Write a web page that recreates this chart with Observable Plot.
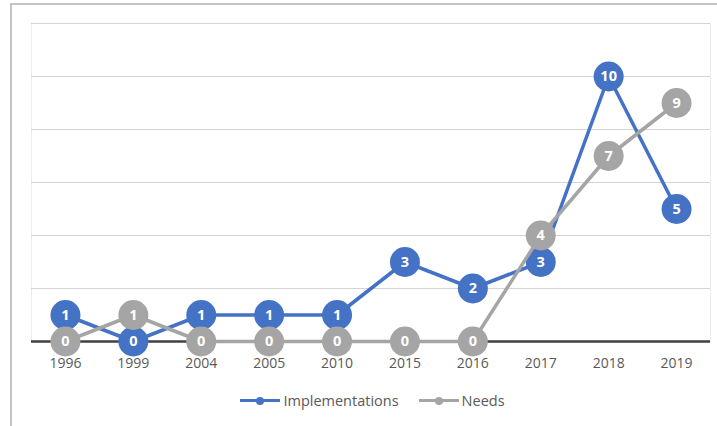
<!DOCTYPE html>
<html>
<head>
<meta charset="utf-8">
<script src="https://cdn.jsdelivr.net/npm/d3@7"></script>
<script src="https://cdn.jsdelivr.net/npm/@observablehq/plot@0.6"></script>
<style>
  html, body { margin: 0; padding: 0; background: #fff; }
  #wrap { position: relative; width: 717px; height: 426px; overflow: hidden; font-family: "Open Sans", sans-serif; }
  #border { position: absolute; left: 10px; top: 3px; right: -5px; bottom: -5px; border-left: 2px solid #c4c4c4; border-top: 2px solid #c4c4c4; }
  #chart { position: absolute; left: 0; top: 0; }
  #legend { position: absolute; top: 391px; left: 14px; width: 717px; display: flex; justify-content: center; gap: 20px; font-size: 14.5px; color: #595959; }
  .item { display: flex; align-items: center; }
  .sw { position: relative; width: 40px; height: 3px; margin-right: 3px; }
  .sw i { position: absolute; left: 16px; top: -2.5px; width: 8px; height: 8px; border-radius: 50%; }
</style>
</head>
<body>
<div id="wrap">
  <div id="border"></div>
  <div id="chart"></div>
  <div id="legend"></div>
</div>
<script>
const years = ["1996", "1999", "2004", "2005", "2010", "2015", "2016", "2017", "2018", "2019"];
const implementations = [1, 0, 1, 1, 1, 3, 2, 3, 10, 5];
const needs = [0, 1, 0, 0, 0, 0, 0, 4, 7, 9];
const seriesNames = ["Implementations", "Needs"];
const colors = ["#4472C4", "#A5A5A5"];
const gridValues = [2, 4, 6, 8, 10, 12];

const impData = years.map((y, i) => ({year: y, value: implementations[i], series: seriesNames[0]}));
const needData = years.map((y, i) => ({year: y, value: needs[i], series: seriesNames[1]}));

const chart = Plot.plot({
  width: 717,
  height: 380,
  marginLeft: 31,
  marginRight: 7,
  marginTop: 23,
  marginBottom: 39,
  style: {fontFamily: "'Open Sans', sans-serif", fontSize: "14px", color: "#595959", background: "transparent", overflow: "visible"},
  x: {type: "point", domain: years, padding: 0.5, round: false, label: null, tickSize: 0, tickPadding: 17},
  y: {domain: [0, 12], axis: null},
  marks: [
    Plot.frame({stroke: "#ececec", strokeWidth: 1}),
    Plot.ruleY(gridValues, {stroke: "#d4d4d4", strokeWidth: 1}),
    Plot.ruleY([0], {stroke: "#404040", strokeWidth: 2.5}),
    Plot.line(impData, {x: "year", y: "value", stroke: colors[0], strokeWidth: 3.5}),
    Plot.dot(impData, {x: "year", y: "value", r: 15, fill: colors[0], stroke: "none"}),
    Plot.text(impData, {x: "year", y: "value", text: d => String(d.value), fill: "white", fontWeight: "bold", fontSize: 14.5}),
    Plot.line(needData, {x: "year", y: "value", stroke: colors[1], strokeWidth: 3.5}),
    Plot.dot(needData, {x: "year", y: "value", r: 15, fill: colors[1], stroke: "none"}),
    Plot.text(needData, {x: "year", y: "value", text: d => String(d.value), fill: "white", fontWeight: "bold", fontSize: 14.5})
  ]
});
document.getElementById("chart").appendChild(chart);

const legend = document.getElementById("legend");
seriesNames.forEach((name, i) => {
  const item = document.createElement("div");
  item.className = "item";
  item.innerHTML = `<span class="sw" style="background:${colors[i]}"><i style="background:${colors[i]}"></i></span><span>${name}</span>`;
  legend.appendChild(item);
});
</script>
</body>
</html>
